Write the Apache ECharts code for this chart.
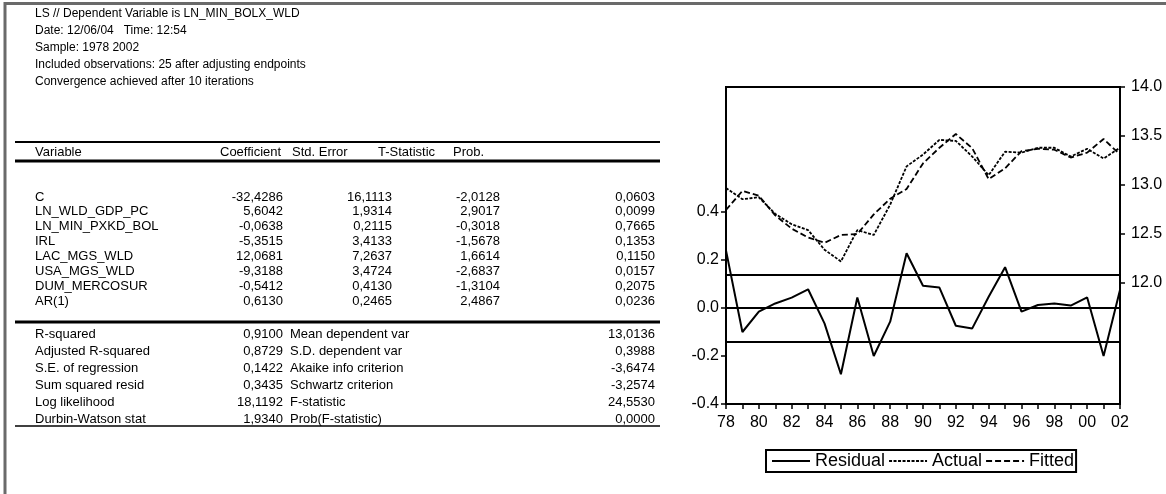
<!DOCTYPE html>
<html><head><meta charset="utf-8">
<script src="https://cdn.jsdelivr.net/npm/echarts@6/dist/echarts.min.js"></script>
<style>html,body{margin:0;padding:0;background:#fff}#c{width:1166px;height:494px}</style>
</head><body><div id="c"></div>
<script>
var years = ['78','79','80','81','82','83','84','85','86','87','88','89','90','91','92','93','94','95','96','97','98','99','00','01','02'];
var residual = [0.24,-0.10,-0.015,0.019,0.043,0.078,-0.064,-0.276,0.044,-0.20,-0.057,0.228,0.093,0.085,-0.074,-0.085,0.047,0.17,-0.015,0.0125,0.019,0.010,0.044,-0.20,0.075];
var actual = [12.97,12.855,12.875,12.705,12.60,12.54,12.34,12.22,12.54,12.49,12.80,13.19,13.31,13.46,13.45,13.29,13.10,13.34,13.33,13.38,13.38,13.29,13.37,13.27,13.38];
var fitted = [12.745,12.94,12.89,12.69,12.555,12.465,12.41,12.49,12.50,12.70,12.86,12.96,13.22,13.38,13.52,13.375,13.06,13.17,13.345,13.37,13.36,13.28,13.33,13.47,13.31];
var seRegression = 0.1422;
var residTicks = {min:-0.4, max:0.4, step:0.2};
var levelTicks = {min:12.0, max:14.0, step:0.5};

var infoLines = ['LS // Dependent Variable is LN_MIN_BOLX_WLD','Date: 12/06/04   Time: 12:54','Sample: 1978 2002','Included observations: 25 after adjusting endpoints','Convergence achieved after 10 iterations'];
var colHeaders = ['Variable','Coefficient','Std. Error','T-Statistic','Prob.'];
var variables = ['C','LN_WLD_GDP_PC','LN_MIN_PXKD_BOL','IRL','LAC_MGS_WLD','USA_MGS_WLD','DUM_MERCOSUR','AR(1)'];
var coefs = ['-32,4286','5,6042','-0,0638','-5,3515','12,0681','-9,3188','-0,5412','0,6130'];
var stdErrs = ['16,1113','1,9314','0,2115','3,4133','7,2637','3,4724','0,4130','0,2465'];
var tStats = ['-2,0128','2,9017','-0,3018','-1,5678','1,6614','-2,6837','-1,3104','2,4867'];
var probs = ['0,0603','0,0099','0,7665','0,1353','0,1150','0,0157','0,2075','0,0236'];
var statNamesL = ['R-squared','Adjusted R-squared','S.E. of regression','Sum squared resid','Log likelihood','Durbin-Watson stat'];
var statValsL = ['0,9100','0,8729','0,1422','0,3435','18,1192','1,9340'];
var statNamesR = ['Mean dependent var','S.D. dependent var','Akaike info criterion','Schwartz criterion','F-statistic','Prob(F-statistic)'];
var statValsR = ['13,0136','0,3988','-3,6474','-3,2574','24,5530','0,0000'];

var FF = '"Liberation Sans", Arial, sans-serif';
var TF = '13px ' + FF;
var IF = '12px ' + FF;
var g = [];
function txt(s, x, y, align, font){ g.push({type:'text', x:x, y:y, silent:true, style:{text:s, font:font||TF, fill:'#000', textAlign:align||'left', textVerticalAlign:'middle'}}); }
function hline(x1, x2, y, w){ g.push({type:'line', silent:true, shape:{x1:x1,y1:y,x2:x2,y2:y}, style:{stroke:'#000', lineWidth:w}}); }

// outer window frame
g.push({type:'polyline', silent:true, shape:{points:[[5,494],[5,3.5],[1166,3.5]]}, style:{stroke:'#6a6a6a', lineWidth:3, fill:null}});

var L = 35, cR = [283, 392, 500, 655];
infoLines.forEach(function(s,i){ txt(s, L, 14 + i*17, 'left', IF); });
hline(15, 660, 142, 2);
txt(colHeaders[0], L, 152);
txt(colHeaders[1], 220, 152); txt(colHeaders[2], 292, 152); txt(colHeaders[3], 378, 152); txt(colHeaders[4], 453, 152);
hline(15, 660, 161, 3);
variables.forEach(function(v,i){
  var y = 197 + i*14.9;
  txt(v, L, y); txt(coefs[i], cR[0], y, 'right'); txt(stdErrs[i], cR[1], y, 'right'); txt(tStats[i], cR[2], y, 'right'); txt(probs[i], cR[3], y, 'right');
});
hline(15, 660, 322, 3);
statNamesL.forEach(function(v,i){
  var y = 334 + i*17;
  txt(v, L, y); txt(statValsL[i], cR[0], y, 'right'); txt(statNamesR[i], 290, y); txt(statValsR[i], cR[3], y, 'right');
});
hline(15, 660, 426, 1.5);

var axLabel = {color:'#000', fontSize:16, fontFamily:FF};
var chart = echarts.init(document.getElementById('c'), null, {renderer:'canvas'});
chart.setOption({
  animation:false,
  backgroundColor:'#fff',
  grid:[
    {left:726, top:87, width:394, height:196},
    {left:726, top:212, width:394, height:192},
    {left:726, top:87, width:394, height:317, show:true, borderColor:'#000', borderWidth:2, backgroundColor:'transparent', z:5}
  ],
  xAxis:[
    {gridIndex:0, type:'category', data:years, boundaryGap:false, show:false},
    {gridIndex:1, type:'category', data:years, boundaryGap:false,
     axisLine:{show:false, onZero:false}, axisTick:{show:true, interval:0, length:5, lineStyle:{color:'#000', width:1.5}},
     axisLabel:Object.assign({interval:1, margin:11}, axLabel)},
    {gridIndex:2, type:'category', data:years, show:false}
  ],
  yAxis:[
    {gridIndex:0, type:'value', position:'right', min:levelTicks.min, max:levelTicks.max, interval:levelTicks.step,
     axisLine:{show:false}, splitLine:{show:false}, axisTick:{show:true, length:5, lineStyle:{color:'#000', width:1.5}},
     axisLabel:Object.assign({margin:11, formatter:function(v){return v.toFixed(1);}}, axLabel)},
    {gridIndex:1, type:'value', position:'left', min:residTicks.min, max:residTicks.max, interval:residTicks.step,
     axisLine:{show:false}, splitLine:{show:false}, axisTick:{show:true, length:5, lineStyle:{color:'#000', width:1.5}},
     axisLabel:Object.assign({margin:7, formatter:function(v){return v.toFixed(1);}}, axLabel)},
    {gridIndex:2, type:'value', show:false}
  ],
  legend:{
    data:['Residual','Actual','Fitted'], left:766, top:450, orient:'horizontal',
    itemWidth:38, itemHeight:14, itemGap:3, padding:[2,2,2,5],
    borderColor:'#000', borderWidth:2, borderRadius:0,
    itemStyle:{opacity:0},
    textStyle:{color:'#000', fontSize:18, fontFamily:FF}
  },
  series:[
    {name:'Residual', type:'line', xAxisIndex:1, yAxisIndex:1, data:residual, symbol:'none',
     lineStyle:{color:'#000', width:2}, itemStyle:{color:'#000'},
     markLine:{silent:true, symbol:'none', label:{show:false}, lineStyle:{color:'#000', width:2, type:'solid'},
       data:[{yAxis:0},{yAxis:seRegression},{yAxis:-seRegression}]}},
    {name:'Actual', type:'line', xAxisIndex:0, yAxisIndex:0, data:actual, symbol:'none',
     lineStyle:{color:'#000', width:1.8, type:[3,1.5]}, itemStyle:{color:'#000'}},
    {name:'Fitted', type:'line', xAxisIndex:0, yAxisIndex:0, data:fitted, symbol:'none',
     lineStyle:{color:'#000', width:1.8, type:[6,3]}, itemStyle:{color:'#000'}}
  ],
  graphic:g
});
</script></body></html>
